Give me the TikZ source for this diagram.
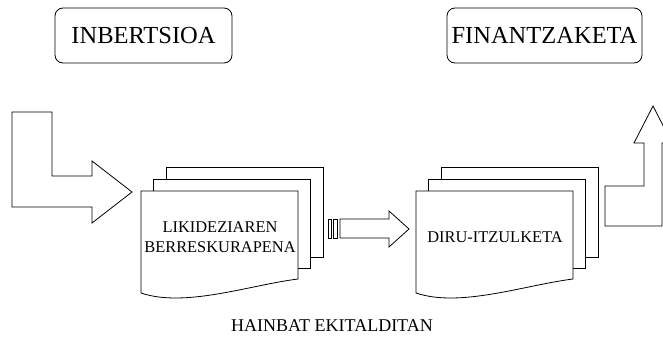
\documentclass[tikz,border=0pt]{standalone}
\usepackage{fontspec}
\setmainfont{Liberation Serif}
\begin{document}
\begin{tikzpicture}[x=1pt,y=-1pt,
  blockshape/.style={draw=black, line width=0.8pt, fill=white, line join=miter},
  titlebox/.style={draw=black, line width=0.8pt, rounded corners=8pt, minimum width=177pt, minimum height=55pt, font=\fontsize{24.5}{28}\selectfont, inner sep=0pt},
  doctext/.style={font=\fontsize{16.4}{20}\selectfont, align=center, inner sep=0pt}]
\useasboundingbox (0,0) rectangle (663,343);
\clip (0,0) rectangle (663,343);

% title boxes
\node[titlebox] (inb) at (143.5,35.5) {INBERTSIOA};
\node[titlebox, minimum width=195pt] (fin) at (544.5,35.5) {FINANTZAKETA};

% left bent arrow
\draw[blockshape] (12,112) -- (52,112) -- (52,176) -- (92,176) -- (92,161) -- (132,192) -- (92,223) -- (92,207) -- (12,207) -- cycle;

% left document stack
\draw[blockshape] (166,167) rectangle (323,257);
\draw[blockshape] (153,179) rectangle (310,268);
\draw[blockshape] (141,191) -- (298,191) -- (298,279) .. controls (250,285) and (185,308) .. (141,293) -- cycle;

% striped arrow
\draw[blockshape] (328.5,219) rectangle (331.5,238);
\draw[blockshape] (333.5,219) rectangle (337.5,238);
\draw[blockshape] (340,219) -- (389,219) -- (389,211) -- (409,229) -- (389,247) -- (389,238) -- (340,238) -- cycle;

% right document stack
\begin{scope}[xshift=275pt]
\draw[blockshape] (166,167) rectangle (323,257);
\draw[blockshape] (153,179) rectangle (310,268);
\draw[blockshape] (141,191) -- (298,191) -- (298,279) .. controls (250,285) and (185,308) .. (141,293) -- cycle;
\end{scope}

% right bent-up arrow
\draw[blockshape] (605,226) -- (605,186) -- (644,186) -- (644,143) -- (634,143) -- (653,106) -- (672,143) -- (662,143) -- (662,226) -- cycle;

% texts
\node[doctext] (likid) at (220,237) {LIKIDEZIAREN\\BERRESKURAPENA};
\node[doctext] (diru) at (495,237) {DIRU-ITZULKETA};
\node[font=\fontsize{18}{22}\selectfont, inner sep=0pt] (hain) at (332,326) {HAINBAT EKITALDITAN};
\end{tikzpicture}
\end{document}
